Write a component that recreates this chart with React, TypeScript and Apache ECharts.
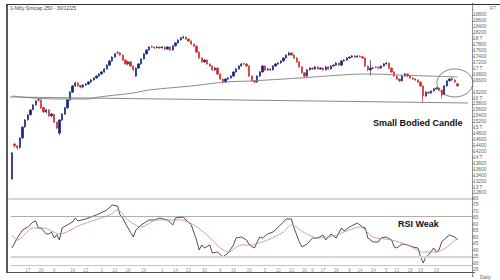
import React, { useEffect, useRef } from 'react';
import * as echarts from 'echarts';

const titleText = '1-Nifty Smlcap 250 - 30/12/25';
const lastClose = 16409.3;
const lastCloseLabel = '16409.3';

// [open, close, low, high]
const ohlc: number[][] = [
  [13270, 14150, 13250, 14180], [14450, 14390, 14340, 14490], [14390, 14320, 14260, 14420], [14330, 14650, 14300, 14680],
  [14660, 15020, 14630, 15050], [15030, 15260, 15000, 15290], [15270, 15430, 15240, 15460], [15440, 15600, 15410, 15620],
  [15610, 15770, 15590, 15790], [15770, 15900, 15750, 15930], [15950, 15930, 15880, 15990], [15930, 15670, 15640, 15960],
  [15680, 15530, 15500, 15700], [15530, 15600, 15480, 15640], [15600, 15400, 15370, 15620], [15400, 15460, 15350, 15490],
  [15450, 15190, 15160, 15470], [15190, 14990, 14960, 15210], [14820, 15260, 14750, 15290], [15260, 15460, 15230, 15490],
  [15460, 15670, 15430, 15700], [15670, 15940, 15640, 15960], [15940, 16200, 15910, 16230], [16200, 16410, 16180, 16440],
  [16410, 16510, 16380, 16560], [16510, 16410, 16380, 16540], [16420, 16370, 16330, 16450], [16370, 16440, 16340, 16470],
  [16440, 16470, 16400, 16500], [16470, 16540, 16450, 16570], [16540, 16610, 16520, 16640], [16610, 16680, 16590, 16700],
  [16680, 16740, 16650, 16770], [16740, 16810, 16720, 16840], [16810, 16880, 16790, 16910], [16880, 16980, 16860, 17010],
  [16980, 17110, 16960, 17140], [17110, 17250, 17090, 17280], [17250, 17380, 17230, 17410], [17380, 17490, 17360, 17510],
  [17530, 17520, 17470, 17580], [17520, 17450, 17420, 17560], [17450, 17280, 17250, 17470], [17280, 17150, 17120, 17300],
  [17150, 17220, 17100, 17250], [17220, 17080, 17050, 17240], [17080, 16950, 16910, 17100], [16740, 17010, 16720, 17040],
  [17010, 17150, 16990, 17180], [17150, 17320, 17130, 17340], [17320, 17490, 17300, 17510], [17490, 17620, 17470, 17640],
  [17620, 17720, 17600, 17750], [17730, 17720, 17680, 17770], [17720, 17690, 17650, 17740], [17690, 17720, 17670, 17750],
  [17720, 17690, 17660, 17740], [17690, 17720, 17670, 17750], [17720, 17650, 17620, 17740], [17650, 17720, 17630, 17750],
  [17720, 17620, 17590, 17740], [17620, 17760, 17600, 17780], [17760, 17860, 17740, 17880], [17860, 17960, 17840, 17980],
  [17960, 18030, 17940, 18060], [18030, 18060, 18000, 18100], [18060, 17990, 17960, 18080], [17990, 17920, 17890, 18010],
  [17920, 17820, 17790, 17940], [17820, 17750, 17720, 17840], [17750, 17550, 17520, 17770], [17550, 17350, 17320, 17570],
  [17350, 17220, 17190, 17370], [17220, 17280, 17180, 17310], [17280, 17150, 17120, 17300], [17150, 17080, 17050, 17170],
  [17080, 16950, 16920, 17100], [16950, 17010, 16920, 17040], [17010, 16810, 16780, 17030], [16810, 16640, 16610, 16830],
  [16640, 16540, 16490, 16660], [16540, 16640, 16510, 16670], [16640, 16680, 16610, 16710], [16680, 16740, 16650, 16770],
  [16740, 16880, 16720, 16900], [16880, 16980, 16860, 17010], [16980, 17080, 16960, 17110], [17080, 17150, 17060, 17180],
  [17160, 17150, 17110, 17190], [17150, 17080, 17050, 17170], [17080, 16740, 16710, 17100], [16740, 16580, 16550, 16760],
  [16580, 16540, 16500, 16600], [16540, 16740, 16520, 16770], [16740, 16880, 16720, 16910], [16880, 17080, 16860, 17110],
  [17080, 16950, 16920, 17100], [16950, 16980, 16920, 17010], [16980, 16950, 16910, 17000], [16950, 17080, 16930, 17110],
  [17080, 17150, 17060, 17180], [17150, 17180, 17120, 17210], [17180, 17250, 17160, 17280], [17250, 17350, 17230, 17380],
  [17350, 17450, 17330, 17480], [17450, 17520, 17430, 17560], [17520, 17450, 17420, 17540], [17450, 17350, 17320, 17470],
  [17350, 17220, 17190, 17370], [17220, 17050, 17020, 17240], [17050, 16850, 16820, 17070], [16850, 16740, 16680, 16870],
  [16740, 16950, 16720, 16980], [16950, 17010, 16930, 17040], [17010, 16980, 16950, 17040], [16980, 17050, 16960, 17080],
  [17050, 16980, 16950, 17070], [16980, 17010, 16960, 17040], [17010, 16950, 16920, 17030], [16950, 17050, 16930, 17080],
  [17050, 16980, 16950, 17070], [16980, 17080, 16960, 17110], [17080, 17110, 17060, 17140], [17110, 17180, 17090, 17210],
  [17180, 17110, 17080, 17200], [17110, 17250, 17090, 17280], [17250, 17280, 17230, 17310], [17280, 17350, 17260, 17380],
  [17350, 17380, 17330, 17410], [17380, 17420, 17360, 17450], [17420, 17380, 17350, 17440], [17380, 17420, 17360, 17450],
  [17420, 17390, 17360, 17440], [17390, 17350, 17320, 17420], [17350, 17080, 17050, 17370], [17080, 16950, 16900, 17100],
  [16950, 17010, 16760, 17280], [17010, 17020, 16980, 17040], [17050, 17040, 17000, 17070], [17040, 17010, 16980, 17060],
  [17010, 17080, 16990, 17110], [17080, 17150, 17060, 17180], [17150, 17180, 17130, 17210], [17180, 17010, 16980, 17200],
  [17010, 16880, 16850, 17030], [16880, 16740, 16710, 16900], [16740, 16640, 16610, 16760], [16640, 16580, 16540, 16660],
  [16580, 16740, 16560, 16770], [16740, 16810, 16720, 16840], [16810, 16740, 16710, 16830], [16740, 16680, 16650, 16760],
  [16680, 16640, 16610, 16700], [16640, 16610, 16580, 16660], [16610, 16540, 16510, 16630], [16540, 16410, 16380, 16560],
  [16410, 16070, 15830, 16430], [16070, 16200, 16040, 16230], [16200, 16170, 16130, 16220], [16170, 16240, 16150, 16260],
  [16240, 16310, 16220, 16330], [16310, 16340, 16290, 16370], [16340, 16270, 16240, 16360], [16270, 16100, 15990, 16290],
  [16130, 16410, 16100, 16440], [16410, 16580, 16390, 16600], [16580, 16640, 16560, 16680], [16660, 16610, 16580, 16700],
  [16610, 16540, 16510, 16630], [16480, 16409, 16380, 16500],
];

// long moving average, read at selected candles [index, value]
const longMA: number[][] = [
  [0, 16070], [8, 16002], [18, 15968], [28, 15968], [33, 16036], [46, 16171], [52, 16272], [68, 16407],
  [81, 16541], [90, 16575], [109, 16676], [125, 16777], [135, 16811], [147, 16777], [169, 16710],
];

// horizontal support trendline [index, value]
const supportLine: number[][] = [[-0.6, 16036], [173, 15834]];

// RSI [index, value]
const rsi: number[][] = [
  [0, 41.8], [1, 45.6], [2, 49.4], [4, 55.6], [6, 57.8], [8, 61.7], [9, 62.4], [10, 57.1], [11, 57.1], [13, 52.5],
  [14, 52.5], [15, 54], [16, 49.4], [17, 52], [18, 47.9], [19, 57.1], [21, 59.4], [23, 61.7], [24, 64.7], [25, 62.4],
  [28, 64], [32, 67], [36, 70.8], [38, 74.7], [40, 73.9], [41, 67], [42, 64.7], [44, 57.1], [46, 50.2], [47, 55.6],
  [49, 59.4], [52, 63.2], [54, 63.2], [56, 64.7], [59, 63.2], [61, 59.4], [62, 64.7], [65, 65.5], [66, 63.2], [68, 59.4],
  [70, 47.9], [71, 40.3], [72, 44.1], [73, 41.8], [75, 44.1], [76, 38], [78, 38.7], [80, 34.9], [82, 38], [84, 44.1],
  [85, 49.4], [87, 50.2], [89, 47.9], [90, 44.1], [92, 41.8], [93, 46.4], [94, 50.2], [95, 49.4], [97, 52.5], [99, 54],
  [101, 57.8], [103, 61.7], [104, 64], [106, 64], [107, 57.1], [109, 46.4], [110, 42.6], [112, 44.9], [114, 49.4], [116, 49.4],
  [118, 51.7], [119, 47.9], [121, 52.5], [123, 49.4], [125, 57.1], [126, 54.8], [128, 57.8], [131, 60.9], [133, 57.8], [134, 57.1],
  [135, 49.4], [137, 46.4], [139, 46.4], [140, 49.4], [142, 50.2], [144, 47.9], [145, 42.6], [146, 41.8], [148, 44.9], [150, 44.1],
  [152, 42.6], [154, 41.8], [155, 34.9], [156, 30.3], [157, 34.9], [158, 36.5], [160, 41.8], [161, 38.7], [162, 40.3], [163, 46.4],
  [165, 50.2], [166, 51.7], [168, 50.2], [169, 47.9],
];

const rsiSignal: number[][] = [
  [0, 51.7], [2, 47.9], [8, 57.1], [12, 57.1], [18, 52.5], [26, 59.4], [37, 67], [40, 70.8], [44, 63.2], [49, 57.8],
  [55, 63.2], [64, 63.2], [69, 59.4], [74, 51.7], [82, 38.7], [87, 44.1], [90, 44.1], [97, 47.9], [103, 54], [106, 59.4],
  [111, 53.3], [116, 49.4], [123, 51.7], [128, 55.6], [132, 57.8], [137, 50.2], [144, 47.9], [150, 44.1], [156, 38.7], [161, 38.7],
  [169, 49.4],
];

const rsiLevels = [
  { v: 79.2, color: '#d4d4d4', w: 2 },
  { v: 66.3, color: '#9a9a9a', w: 0.8 },
  { v: 34.9, color: '#d4d4d4', w: 2 },
  { v: 28.8, color: '#b8b8b8', w: 0.8 },
];

// x tick labels: [candle index, label]
const xTicks: [number, string][] = [
  [6, '17'], [11, '28'], [16, '9'], [23, '16'], [28, '23'], [34, '3'], [39, '10'], [44, '18'], [50, '26'], [57, '1'],
  [62, '14'], [67, '22'], [73, '30'], [79, '6'], [84, '16'], [90, '26'], [96, '5'], [101, '12'], [106, '22'], [111, '30'],
  [114, '6'], [118, '17'], [123, '28'], [128, '8'], [132, '14'], [137, '24'], [142, '5'], [146, '13'], [151, '18'], [155, '19'],
  [161, '29'],
];

const ellipseCenter = [167.7, 16510];
const TOTAL_SLOTS = 175;

export default function App() {
  const ref = useRef<HTMLDivElement>(null);
  useEffect(() => {
    const chart = echarts.init(ref.current!, null, { renderer: 'svg' });
    const cats = Array.from({ length: TOTAL_SLOTS }, (_, i) => String(i));
    const tickMap: Record<number, string> = {};
    xTicks.forEach(([i, t]) => (tickMap[i] = t));
    const font = 'Liberation Sans, Arial, sans-serif';

    const option: any = {
      animation: false,
      backgroundColor: '#fff',
      grid: [
        { left: 10.68, right: 28, top: 3.13, height: 195.8 },
        { left: 10.68, right: 28, top: 198, height: 78.5 },
      ],
      xAxis: [
        {
          type: 'category', data: cats, gridIndex: 0, boundaryGap: true,
          axisLine: { show: false }, axisTick: { show: false }, axisLabel: { show: false }, splitLine: { show: false },
        },
        {
          type: 'category', data: cats, gridIndex: 1, boundaryGap: true,
          axisLine: { show: false }, axisTick: { show: false }, splitLine: { show: false },
          axisLabel: {
            show: true, inside: true, margin: 4, fontSize: 4.5, color: '#9a9a9a', fontFamily: font,
            interval: (i: number) => tickMap[i] !== undefined,
            formatter: (_v: string, i: number) => tickMap[i] ?? '',
          },
        },
      ],
      yAxis: [
        {
          type: 'value', gridIndex: 0, position: 'right', min: 12600, max: 19200, interval: 200,
          axisLine: { show: true, lineStyle: { color: '#777', width: 0.8 } },
          axisTick: { show: true, length: 2, lineStyle: { color: '#777', width: 0.6 } },
          splitLine: { show: false },
          axisLabel: {
            fontSize: 4.8, color: '#666', margin: 1, fontFamily: font,
            formatter: (v: number) =>
              v < 12800 || v > 18800 || Math.abs(v - lastClose) < 100 ? '' : v % 1000 === 0 ? `${v / 1000} T` : String(v),
          },
        },
        {
          type: 'value', gridIndex: 1, position: 'right', min: 20, max: 80, interval: 5,
          axisLine: { show: true, lineStyle: { color: '#777', width: 0.8 } },
          axisTick: { show: true, length: 2, lineStyle: { color: '#777', width: 0.6 } },
          splitLine: { show: false },
          axisLabel: {
            fontSize: 4.8, color: '#666', margin: 1, fontFamily: font,
            formatter: (v: number) => (v < 25 ? '' : String(v)),
          },
        },
      ],
      series: [
        {
          type: 'candlestick', xAxisIndex: 0, yAxisIndex: 0, data: ohlc, barWidth: 1.8,
          itemStyle: { color: '#16247e', color0: '#d42a2a', borderColor: '#16247e', borderColor0: '#d42a2a', borderWidth: 0.7 },
          markLine: {
            silent: true, symbol: 'none', animation: false,
            lineStyle: { opacity: 0 },
            label: {
              show: true, position: 'end', formatter: lastCloseLabel, backgroundColor: '#000', color: '#fff',
              fontSize: 5, padding: [1.5, 2], distance: 1, fontFamily: font,
            },
            data: [{ yAxis: lastClose }],
          },
        },
        {
          type: 'line', xAxisIndex: 0, yAxisIndex: 0, data: longMA, smooth: 0.4, symbol: 'none',
          lineStyle: { color: '#8a8a8a', width: 1 },
        },
        {
          type: 'line', xAxisIndex: 0, yAxisIndex: 0, data: supportLine, symbol: 'none',
          lineStyle: { color: '#7d7d7d', width: 0.9 },
        },
        {
          type: 'line', xAxisIndex: 1, yAxisIndex: 1, data: rsi, symbol: 'none',
          lineStyle: { color: '#222', width: 0.8 },
          markLine: {
            silent: true, symbol: 'none', animation: false, label: { show: false },
            data: rsiLevels.map((l) => ({ yAxis: l.v, lineStyle: { color: l.color, width: l.w, type: 'solid' } })),
          },
        },
        {
          type: 'line', xAxisIndex: 1, yAxisIndex: 1, data: rsiSignal, smooth: 0.3, symbol: 'none',
          lineStyle: { color: '#c48e88', width: 0.8 },
        },
      ],
    };
    chart.setOption(option);

    const c = chart.convertToPixel({ gridIndex: 0 }, ellipseCenter) as number[];
    chart.setOption({
      graphic: [
        { type: 'rect', shape: { x: 6, y: 4, width: 2, height: 269 }, style: { fill: '#5a5a5a' }, silent: true },
        { type: 'line', shape: { x1: 6, y1: 4.5, x2: 500, y2: 4.5 }, style: { stroke: '#333', lineWidth: 1 }, silent: true },
        { type: 'line', shape: { x1: 6, y1: 272.5, x2: 475, y2: 272.5 }, style: { stroke: '#555', lineWidth: 1.2 }, silent: true },
        { type: 'line', shape: { x1: 8, y1: 199, x2: 472, y2: 199 }, style: { stroke: '#d0d0d0', lineWidth: 1.6 }, silent: true },
        { type: 'text', x: 10, y: 7.5, style: { text: titleText, fontSize: 5, fill: '#444', fontFamily: font, textVerticalAlign: 'middle' } },
        { type: 'text', x: 490, y: 7.5, style: { text: 'F7', fontSize: 5, fill: '#666', fontFamily: font, textVerticalAlign: 'middle' } },
        { type: 'text', x: 480, y: 276.5, style: { text: 'Daily', fontSize: 5, fill: '#666', fontFamily: font, textVerticalAlign: 'middle' } },
        { type: 'text', x: 373, y: 123, style: { text: 'Small Bodied Candle', fontSize: 9, fontWeight: 'bold', fill: '#111', fontFamily: font, textVerticalAlign: 'middle' } },
        { type: 'text', x: 398, y: 224, style: { text: 'RSI Weak', fontSize: 9, fontWeight: 'bold', fill: '#111', fontFamily: font, textVerticalAlign: 'middle' } },
        { type: 'ellipse', shape: { cx: c[0], cy: c[1], rx: 18, ry: 14 }, style: { fill: 'none', stroke: '#666', lineWidth: 0.8 }, silent: true },
      ],
    });
    return () => chart.dispose();
  }, []);
  return <div ref={ref} style={{ position: 'fixed', left: 0, top: 0, width: 500, height: 280, background: '#fff' }} />;
}
